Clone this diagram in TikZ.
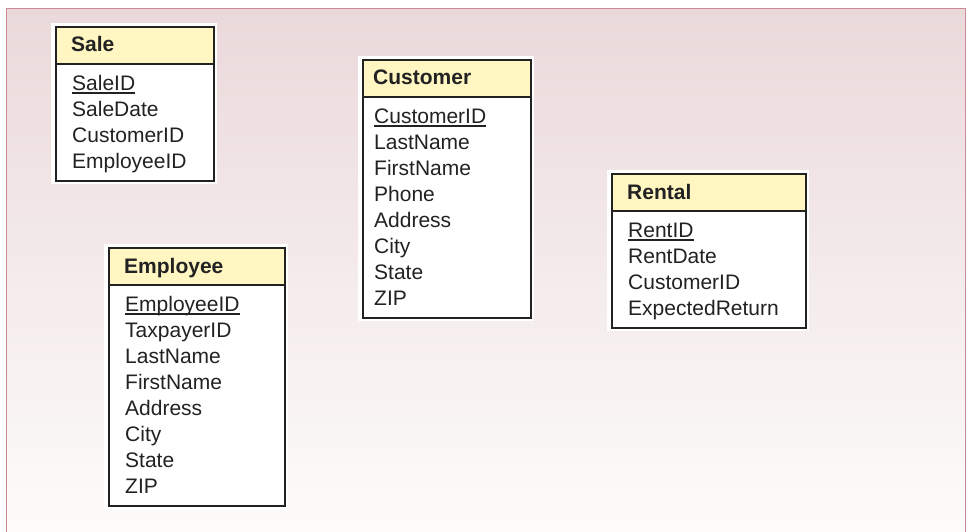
\documentclass[tikz,border=0pt]{standalone}
\usepackage{fontspec}
\setmainfont{Liberation Sans}
\definecolor{bgtop}{HTML}{EBD9DA}
\definecolor{bgbot}{HTML}{FDFCFB}
\definecolor{framecol}{HTML}{C98A96}
\definecolor{hdrfill}{HTML}{FFF6C2}
\definecolor{edge}{HTML}{222222}
\tikzset{
  hdr/.style={draw=edge,line width=2.4pt,fill=hdrfill,anchor=north west,inner sep=0pt,
    minimum height=37pt},
  bodybox/.style={draw=edge,line width=2.4pt,fill=white,anchor=north west,inner sep=0pt},
  attr/.style={anchor=base west,inner sep=0pt,font=\fontsize{21}{24}\selectfont,text=edge},
  title/.style={anchor=base west,inner sep=0pt,font=\fontsize{21}{24}\selectfont\bfseries,text=edge},
  halo/.style={fill=white}
}
% \entity{name}{left}{top}{width}{text indent}{title}{attributes}{number of attributes}
\newcommand\entity[8]{%
  \pgfmathsetmacro\bodyh{20+26*(#8-1)+19}
  \fill[halo] (#2-4,#3-3) rectangle (#2+#4+4,#3+37+\bodyh+4);
  \node[bodybox,minimum width=#4,minimum height=\bodyh] (#1-body) at (#2,#3+37) {};
  \node[hdr,minimum width=#4] (#1-head) at (#2,#3) {};
  \node[title] (#1-title) at (#2+#5-1,#3+18.5+7.5) {#6};
  \foreach \t [count=\i] in {#7} {
    \node[attr] (#1-\i) at (#2+#5,#3+37+20+26*\i-26+7.5) {\t};
  }
  \draw[edge,line width=1.3pt] ([yshift=-2.6pt]#1-1.base west) -- ([yshift=-2.6pt]#1-1.base east);
}
\begin{document}
\begin{tikzpicture}[x=1pt,y=-1pt]
\useasboundingbox (0,0) rectangle (968,532);
\fill[white] (0,0) rectangle (968,532);
% page panel with soft vertical gradient
\shade[top color=bgtop,bottom color=bgbot] (6.5,8.5) rectangle (965.5,532);
\draw[framecol,line width=1.5pt] (6.5,534) -- (6.5,8.5) -- (965.5,8.5) -- (965.5,534);

\entity{sale}{55}{26}{158}{17}{Sale}{SaleID,SaleDate,CustomerID,EmployeeID}{4}
\entity{customer}{362}{59}{168}{12}{Customer}{CustomerID,LastName,FirstName,Phone,Address,City,State,ZIP}{8}
\entity{rental}{611}{173}{194}{17}{Rental}{RentID,RentDate,CustomerID,ExpectedReturn}{4}
\entity{employee}{108}{247}{176}{17}{Employee}{EmployeeID,TaxpayerID,LastName,FirstName,Address,City,State,ZIP}{8}
\end{tikzpicture}
\end{document}
